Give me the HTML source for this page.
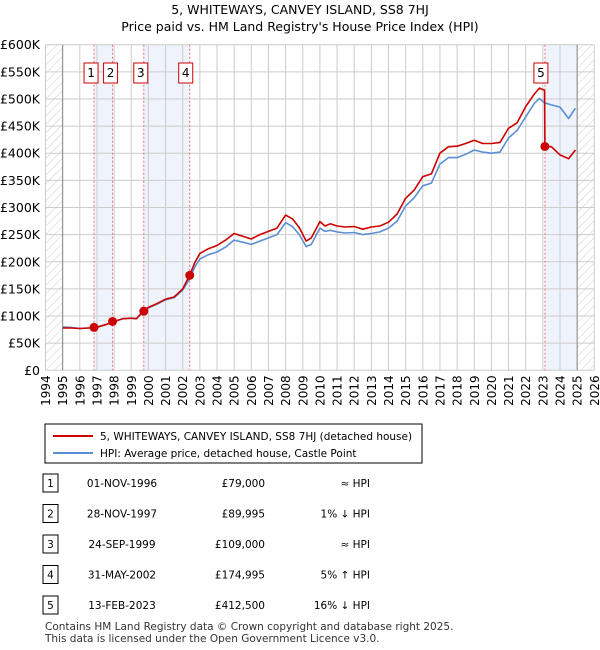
<!DOCTYPE html>
<html><head><meta charset="utf-8"><style>
body{margin:0;background:#fff;font-family:"DejaVu Sans","Liberation Sans",sans-serif;}
#wrap{position:relative;width:600px;height:650px;overflow:hidden}
svg text{font-family:"DejaVu Sans","Liberation Sans",sans-serif;}
</style></head><body><div id="wrap">
<svg id="c" width="600" height="650" style="position:absolute;left:0;top:0">
<defs><pattern id="hatch" width="6" height="6" patternUnits="userSpaceOnUse" patternTransform="rotate(45)"><line x1="0" y1="0" x2="0" y2="6" stroke="#ccc" stroke-width="1"/></pattern></defs>
<text x="300" y="14" text-anchor="middle" font-size="12.5">5, WHITEWAYS, CANVEY ISLAND, SS8 7HJ</text>
<text x="300" y="31" text-anchor="middle" font-size="12.5">Price paid vs. HM Land Registry's House Price Index (HPI)</text>
<g id="plot"></g>
<rect x="45" y="424" width="377" height="39" fill="#fff" stroke="#000"/>
<line x1="53" y1="436" x2="93" y2="436" stroke="#cc0000" stroke-width="2"/>
<text x="100" y="440" font-size="10.5">5, WHITEWAYS, CANVEY ISLAND, SS8 7HJ (detached house)</text>
<line x1="53" y1="453" x2="93" y2="453" stroke="#5b8fd4" stroke-width="2"/>
<text x="100" y="457" font-size="10.5">HPI: Average price, detached house, Castle Point</text>
<g id="table"></g>
<text x="45" y="630" font-size="10.5" fill="#333">Contains HM Land Registry data © Crown copyright and database right 2025.</text>
<text x="45" y="642" font-size="10.5" fill="#333">This data is licensed under the Open Government Licence v3.0.</text>
</svg></div>
<script>
const yearTicks=[1994,1995,1996,1997,1998,1999,2000,2001,2002,2003,2004,2005,2006,2007,2008,2009,2010,2011,2012,2013,2014,2015,2016,2017,2018,2019,2020,2021,2022,2023,2024,2025,2026];
const priceTicks=[0,50,100,150,200,250,300,350,400,450,500,550,600];
const hpiT=[1995,1995.5,1996,1996.5,1997,1997.5,1998,1998.5,1999,1999.3,1999.7,2000,2000.5,2001,2001.5,2002,2002.4,2002.7,2003,2003.5,2004,2004.5,2005,2005.5,2006,2006.5,2007,2007.5,2008,2008.4,2008.8,2009.2,2009.5,2010,2010.3,2010.6,2011,2011.5,2012,2012.5,2013,2013.5,2014,2014.5,2015,2015.5,2016,2016.5,2017,2017.5,2018,2018.5,2019,2019.5,2020,2020.5,2021,2021.5,2022,2022.5,2022.8,2023.1,2023.5,2024,2024.5,2024.9];
const hpiV=[80,79,77,78,80,84,90,95,96,95,108,115,122,130,134,148,168,190,205,213,218,227,240,236,232,238,244,250,272,265,250,228,232,262,256,258,255,253,254,250,252,255,262,275,303,318,340,345,380,392,392,398,406,402,400,402,428,442,467,492,501,493,489,485,464,483];
const priceT=[1995,1995.5,1996,1996.5,1997,1997.5,1998,1998.5,1999,1999.3,1999.7,2000,2000.5,2001,2001.5,2002,2002.4,2002.7,2003,2003.5,2004,2004.5,2005,2005.5,2006,2006.5,2007,2007.5,2008,2008.4,2008.8,2009.2,2009.5,2010,2010.3,2010.6,2011,2011.5,2012,2012.5,2013,2013.5,2014,2014.5,2015,2015.5,2016,2016.5,2017,2017.5,2018,2018.5,2019,2019.5,2020,2020.5,2021,2021.5,2022,2022.5,2022.8,2023.1,2023.12,2023.5,2024,2024.5,2024.9];
const priceV=[78,78,77,78,79,84,90,95,96,95,109,116,123,131,135,150,175,198,215,224,230,240,252,247,242,250,256,262,286,279,263,238,244,274,266,270,266,264,265,260,264,266,273,288,317,332,357,362,400,412,413,418,424,418,418,420,446,456,486,509,520,516,412.5,412,397,390,406];
const saleT=[1996.83,1997.91,1999.73,2002.41,2023.12];
const saleV=[79,89.995,109,174.995,412.5];
const saleLabel=["1","2","3","4","5"];
const saleDates=["01-NOV-1996","28-NOV-1997","24-SEP-1999","31-MAY-2002","13-FEB-2023"];
const salePrices=["£79,000","£89,995","£109,000","£174,995","£412,500"];
const saleHpi=["≈ HPI","1% ↓ HPI","≈ HPI","5% ↑ HPI","16% ↓ HPI"];
const NS="http://www.w3.org/2000/svg";
const X0=45.5,XW=17.15,Y0=370.3,YK=325.6/600;
const xs=t=>X0+(t-1994)*XW, ys=v=>Y0-v*YK;
const g=document.getElementById('plot');
function mk(tag,attrs,parent){const e=document.createElementNS(NS,tag);for(const k in attrs)e.setAttribute(k,attrs[k]);(parent||g).appendChild(e);return e;}
[[0,1],[2,3],[4,null]].forEach((p,i)=>{const a=xs(saleT[p[0]]),b=p[1]===null?xs(2025):xs(saleT[p[1]]);
const r=mk('rect',{x:a,y:ys(600),width:b-a,height:Y0-ys(600),fill:'#eef3fc'});

});
const h1=mk('rect',{x:xs(1994),y:ys(600),width:xs(1995)-xs(1994),height:Y0-ys(600),fill:'url(#hatch)'});


const h2=mk('rect',{x:xs(2025),y:ys(600),width:xs(2026)-xs(2025),height:Y0-ys(600),fill:'url(#hatch)'});


yearTicks.forEach(y=>{const l=mk('line',{x1:xs(y),x2:xs(y),y1:ys(600),y2:Y0,stroke:'#ccc'});


const t=mk('text',{x:0,y:0,'font-size':12,'text-anchor':'end',transform:`translate(${xs(y)+4.5},${Y0+5}) rotate(-90)`});t.textContent=y;

});
priceTicks.forEach(v=>{const l=mk('line',{x1:xs(1994),x2:xs(2026),y1:ys(v),y2:ys(v),stroke:'#ccc'});


const t=mk('text',{x:40,y:ys(v)+4.5,'font-size':12.5,'text-anchor':'end'});t.textContent=v===0?'£0':'£'+v+'K';

});
[1995,2025].forEach(y=>{const l=mk('line',{x1:xs(y),x2:xs(y),y1:ys(600),y2:Y0,stroke:'#888'});

});
saleT.forEach((t,i)=>{const l=mk('line',{x1:xs(t),x2:xs(t),y1:ys(600),y2:Y0,stroke:'#f07070','stroke-dasharray':'2,2'});

});
function path(T,V,col,name){const d=T.map((t,i)=>(i?'L':'M')+xs(t).toFixed(1)+','+ys(V[i]).toFixed(1)).join('');
const p=mk('path',{d:d,fill:'none',stroke:col,'stroke-width':1.6,'stroke-linejoin':'round'});

}
path(hpiT,hpiV,'#5b8fd4','hpi-line');
path(priceT,priceV,'#cc0000','price-paid-line');
const boxOff=[-3,-2,-3,-4,-4];
saleT.forEach((t,i)=>{const c=mk('circle',{cx:xs(t),cy:ys(saleV[i]),r:4.5,fill:'#cc0000'});


const r=mk('rect',{x:xs(t)-7+boxOff[i],y:63,width:14,height:20,fill:'#fff',stroke:'#cc0000'});


const tx=mk('text',{x:xs(t)+boxOff[i],y:77,'font-size':12,'text-anchor':'middle'});tx.textContent=saleLabel[i];

});
const tb=document.getElementById('table');
saleLabel.forEach((s,i)=>{const y=483+i*30.5;
const r=mk('rect',{x:43,y:y-9,width:15,height:18,fill:'#fff',stroke:'#000'},tb);


const cells=[[50.5,'middle',s],[122,'middle',saleDates[i]],[265,'end',salePrices[i]],[370,'end',saleHpi[i]]];
cells.forEach(c=>{const t=mk('text',{x:c[0],y:y+4,'font-size':10.5,'text-anchor':c[1]},tb);t.textContent=c[2];

});});
</script></body></html>
